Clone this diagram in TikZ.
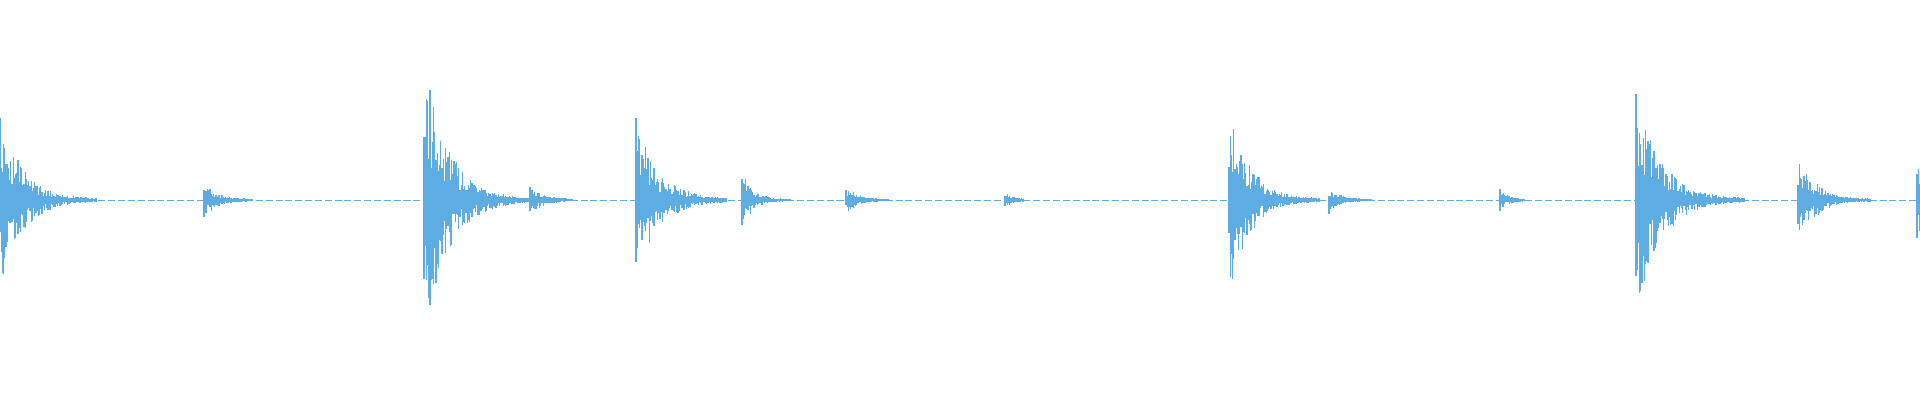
\documentclass[tikz,border=0pt]{standalone}
\usepackage{tikz}
\definecolor{wavecol}{RGB}{93,173,226}
\tikzset{wave/.style={draw=wavecol,line width=0.35pt}}
% one decaying burst: start, amplitude, decay, number of strokes
\newcommand{\burst}[4]{%
  \foreach \i in {0,...,#4}{%
    \pgfmathsetmacro{\xx}{#1+\i*0.012}
    \pgfmathsetmacro{\aa}{#2*exp(-\i*0.012/#3)*(0.25+0.75*rnd)+0.01}
    \pgfmathsetmacro{\bb}{#2*exp(-\i*0.012/#3)*(0.25+0.75*rnd)+0.01}
    \draw[wave] (\xx,-\bb) -- (\xx,\aa);
  }}
\begin{document}
\begin{tikzpicture}
  \useasboundingbox (0,-2) rectangle (19.2,2);
  \pgfmathsetseed{7}
  \draw[wave,line width=0.2pt,dash pattern=on 2pt off 0.8pt] (0,0) -- (19.2,0);
  \burst{0.00}{0.89}{0.22}{80}
  \burst{2.04}{0.18}{0.12}{40}
  \burst{4.24}{1.44}{0.24}{90}
  \burst{5.30}{0.15}{0.12}{35}
  \burst{6.36}{0.84}{0.22}{75}
  \burst{7.42}{0.30}{0.10}{40}
  \burst{8.46}{0.15}{0.10}{35}
  \burst{10.05}{0.07}{0.08}{15}
  \burst{12.29}{0.98}{0.20}{75}
  \burst{13.29}{0.13}{0.10}{35}
  \burst{15.00}{0.10}{0.08}{20}
  \burst{16.36}{1.19}{0.24}{90}
  \burst{17.98}{0.49}{0.16}{60}
  \burst{19.17}{0.37}{0.20}{2}
\end{tikzpicture}
\end{document}
